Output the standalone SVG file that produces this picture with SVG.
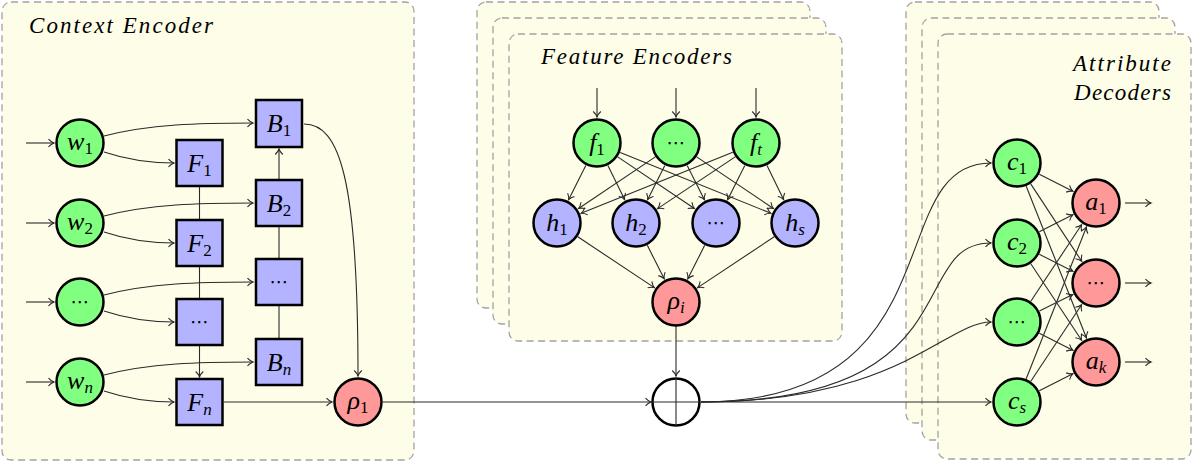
<svg xmlns="http://www.w3.org/2000/svg" width="1193" height="462" viewBox="0 0 1193 462" font-family="Liberation Serif, serif">
<style>
.box{fill:#fdfde8;stroke:#a3a3a3;stroke-width:1.3;stroke-dasharray:7 4.5}
.n{stroke:#000;stroke-width:2.5}
.g{fill:#80ff80}.b{fill:#b3b3ff}.r{fill:#ff9999}.w{fill:#fff}
.e{fill:none;stroke:#2a2a2a;stroke-width:1.1}
.ar{marker-end:url(#tip)}
.t{font-family:'Liberation Serif',serif;font-style:italic;fill:#000}
.title{font-size:23px}
.l{font-size:26px;text-anchor:middle}
.s{font-size:17px}
.u{font-style:normal}
.d{font-family:'DejaVu Sans',sans-serif;font-size:19px;text-anchor:middle;fill:#000}
</style>
<defs>
<marker id="tip" markerUnits="userSpaceOnUse" markerWidth="12" markerHeight="12" viewBox="-7 -6 8 12" refX="0" refY="0" orient="auto">
<path d="M -5.5,-3.8 C -3.5,-1.6 -1.2,-0.4 0,0 C -1.2,0.4 -3.5,1.6 -5.5,3.8" fill="none" stroke="#2a2a2a" stroke-width="1.1"/>
</marker>
</defs>
<rect width="1193" height="462" fill="#fff"/>

<g id="context-encoder-box">
<rect class="box" x="2" y="2" width="412" height="458" rx="9"/>
<text class="t title" x="29" y="33" textLength="184" lengthAdjust="spacing">Context Encoder</text>
</g>
<g id="feature-encoder-boxes">
<rect class="box" x="477" y="2" width="333" height="306" rx="9"/>
<rect class="box" x="493" y="18" width="333" height="306" rx="9"/>
<rect class="box" x="509" y="34" width="333" height="307" rx="9"/>
<text class="t title" x="541" y="64" textLength="191" lengthAdjust="spacing">Feature Encoders</text>
</g>
<g id="attribute-decoder-boxes">
<rect class="box" x="906" y="2" width="253" height="421" rx="9"/>
<rect class="box" x="922" y="18" width="253" height="422" rx="9"/>
<rect class="box" x="938" y="34" width="253" height="425" rx="9"/>
<text class="t title" x="1171" y="71" text-anchor="end" textLength="98" lengthAdjust="spacing">Attribute</text>
<text class="t title" x="1171" y="100" text-anchor="end" textLength="97" lengthAdjust="spacing">Decoders</text>
</g>

<g id="connectors">
<path class="e ar" d="M26,143H54"/>
<path class="e ar" d="M26,223H54"/>
<path class="e ar" d="M26,302H54"/>
<path class="e ar" d="M26,382H54"/>
<path class="e ar" d="M104,136 C150,124 200,123 253,123"/>
<path class="e ar" d="M104,216 C150,204 200,203 253,203"/>
<path class="e ar" d="M104,295 C150,283 200,282 253,282"/>
<path class="e ar" d="M104,375 C150,363 200,362 253,362"/>
<path class="e ar" d="M104,152 C125,159 145,163 174,163"/>
<path class="e ar" d="M104,232 C125,239 145,243 174,243"/>
<path class="e ar" d="M104,311 C125,318 145,322 174,322"/>
<path class="e ar" d="M104,391 C125,398 145,402 174,402"/>
<path class="e" d="M199.5,187V219"/>
<path class="e" d="M199.5,267V298"/>
<path class="e ar" d="M199.5,346V377"/>
<path class="e" d="M279,338V306"/>
<path class="e" d="M279,258V227"/>
<path class="e ar" d="M279,179V149"/>
<path class="e ar" d="M304,124 C340,124 358,180 358,376"/>
<path class="e ar" d="M224,402H332"/>
<path class="e ar" d="M383,402H651"/>
<path class="e ar" d="M597,88V117"/>
<path class="e ar" d="M676,88V117"/>
<path class="e ar" d="M756,88V117"/>
<path class="e ar" d="M585.8,165.4L568.6,199.7"/>
<path class="e ar" d="M607.9,165.5L624.6,199.6"/>
<path class="e ar" d="M617.7,156.9L694.4,208.5"/>
<path class="e ar" d="M620.2,152.4L770.9,213.3"/>
<path class="e ar" d="M655.3,156.9L578.6,208.5"/>
<path class="e ar" d="M664.8,165.4L647.6,199.7"/>
<path class="e ar" d="M687.2,165.4L704.4,199.7"/>
<path class="e ar" d="M696.7,156.9L773.4,208.5"/>
<path class="e ar" d="M732.8,152.3L581.1,213.3"/>
<path class="e ar" d="M735.2,156.9L657.6,208.6"/>
<path class="e ar" d="M744.8,165.4L727.6,199.7"/>
<path class="e ar" d="M767,165.5L783.6,199.6"/>
<path class="e ar" d="M577.8,236.8L654.3,287.6"/>
<path class="e ar" d="M647.3,245.3L664.2,278.8"/>
<path class="e ar" d="M704.7,245.3L687.8,278.8"/>
<path class="e ar" d="M774.2,236.8L697.7,287.6"/>
<path class="e ar" d="M676,326V376"/>
<path class="e ar" d="M701,402 C960,402 880,163 991,163"/>
<path class="e ar" d="M701,402 C975,402 905,243 991,243"/>
<path class="e ar" d="M701,402 C900,402 945,322 991,322"/>
<path class="e ar" d="M701,402H991"/>
<path class="e ar" d="M1039.3,174.3L1072.8,191.2"/>
<path class="e ar" d="M1030.7,183.9L1081.7,261.3"/>
<path class="e ar" d="M1026.2,186.2L1086.4,337.8"/>
<path class="e ar" d="M1039.3,231.7L1072.8,214.8"/>
<path class="e ar" d="M1039.3,254.3L1072.8,271.2"/>
<path class="e ar" d="M1030.8,263.8L1081.6,340.3"/>
<path class="e ar" d="M1030.8,301.2L1081.6,224.7"/>
<path class="e ar" d="M1039.4,310.9L1072.7,294.5"/>
<path class="e ar" d="M1039.3,333.3L1072.8,350.2"/>
<path class="e ar" d="M1026.2,378.8L1086.4,227.2"/>
<path class="e ar" d="M1030.8,381.2L1081.6,304.7"/>
<path class="e ar" d="M1039.3,390.7L1072.8,373.8"/>
<path class="e ar" d="M1125,203H1151"/>
<path class="e ar" d="M1125,283H1151"/>
<path class="e ar" d="M1125,362H1151"/>
</g>

<g id="w1"><circle class="n g" cx="80" cy="143" r="23.5"/><text class="t l" x="80" y="150">w<tspan class="s u" dy="4">1</tspan></text></g>
<g id="w2"><circle class="n g" cx="80" cy="223" r="23.5"/><text class="t l" x="80" y="230">w<tspan class="s u" dy="4">2</tspan></text></g>
<g id="w3"><circle class="n g" cx="80" cy="302" r="23.5"/><text class="d" x="80" y="308">⋯</text></g>
<g id="wn"><circle class="n g" cx="80" cy="382" r="23.5"/><text class="t l" x="80" y="389">w<tspan class="s" dy="4">n</tspan></text></g>

<g id="F1"><rect class="n b" x="176.5" y="140" width="46" height="46"/><text class="t l" x="199.5" y="172">F<tspan class="s u" dy="4">1</tspan></text></g>
<g id="F2"><rect class="n b" x="176.5" y="220" width="46" height="46"/><text class="t l" x="199.5" y="252">F<tspan class="s u" dy="4">2</tspan></text></g>
<g id="F3"><rect class="n b" x="176.5" y="299" width="46" height="46"/><text class="d" x="199.5" y="328">⋯</text></g>
<g id="Fn"><rect class="n b" x="176.5" y="379" width="46" height="46"/><text class="t l" x="199.5" y="411">F<tspan class="s" dy="4">n</tspan></text></g>

<g id="B1"><rect class="n b" x="256" y="100" width="46" height="47"/><text class="t l" x="279" y="132">B<tspan class="s u" dy="4">1</tspan></text></g>
<g id="B2"><rect class="n b" x="256" y="180" width="46" height="46"/><text class="t l" x="279" y="212">B<tspan class="s u" dy="4">2</tspan></text></g>
<g id="B3"><rect class="n b" x="256" y="259" width="46" height="46"/><text class="d" x="279" y="288">⋯</text></g>
<g id="Bn"><rect class="n b" x="256" y="339" width="46" height="46"/><text class="t l" x="279" y="371">B<tspan class="s" dy="4">n</tspan></text></g>

<g id="rho1"><circle class="n r" cx="358" cy="402" r="23.5"/><text class="t l" x="358" y="409">ρ<tspan class="s u" dy="4">1</tspan></text></g>

<g id="f1"><circle class="n g" cx="597" cy="143" r="23.5"/><text class="t l" x="597" y="151">f<tspan class="s u" dy="4">1</tspan></text></g>
<g id="f2"><circle class="n g" cx="676" cy="143" r="23.5"/><text class="d" x="676" y="149">⋯</text></g>
<g id="ft"><circle class="n g" cx="756" cy="143" r="23.5"/><text class="t l" x="756" y="151">f<tspan class="s" dy="4">t</tspan></text></g>

<g id="h1"><circle class="n b" cx="557" cy="223" r="23.5"/><text class="t l" x="557" y="231">h<tspan class="s u" dy="4">1</tspan></text></g>
<g id="h2"><circle class="n b" cx="636" cy="223" r="23.5"/><text class="t l" x="636" y="231">h<tspan class="s u" dy="4">2</tspan></text></g>
<g id="h3"><circle class="n b" cx="716" cy="223" r="23.5"/><text class="d" x="716" y="229">⋯</text></g>
<g id="hs"><circle class="n b" cx="795" cy="223" r="23.5"/><text class="t l" x="795" y="231">h<tspan class="s" dy="4">s</tspan></text></g>

<g id="rhoi"><circle class="n r" cx="676" cy="302" r="23.5"/><text class="t l" x="676" y="309">ρ<tspan class="s" dy="4">i</tspan></text></g>

<g id="oplus"><circle class="n w" cx="676" cy="402" r="23.5"/><path class="e" d="M676,378V426M652,402H700"/></g>

<g id="c1"><circle class="n g" cx="1017" cy="163" r="23.5"/><text class="t l" x="1017" y="170">c<tspan class="s u" dy="4">1</tspan></text></g>
<g id="c2"><circle class="n g" cx="1017" cy="243" r="23.5"/><text class="t l" x="1017" y="250">c<tspan class="s u" dy="4">2</tspan></text></g>
<g id="c3"><circle class="n g" cx="1017" cy="322" r="23.5"/><text class="d" x="1017" y="328">⋯</text></g>
<g id="cs"><circle class="n g" cx="1017" cy="402" r="23.5"/><text class="t l" x="1017" y="409">c<tspan class="s" dy="4">s</tspan></text></g>

<g id="a1"><circle class="n r" cx="1096" cy="203" r="23.5"/><text class="t l" x="1096" y="210">a<tspan class="s u" dy="4">1</tspan></text></g>
<g id="a2"><circle class="n r" cx="1096" cy="283" r="23.5"/><text class="d" x="1096" y="289">⋯</text></g>
<g id="ak"><circle class="n r" cx="1096" cy="362" r="23.5"/><text class="t l" x="1096" y="369">a<tspan class="s" dy="4">k</tspan></text></g>
</svg>
